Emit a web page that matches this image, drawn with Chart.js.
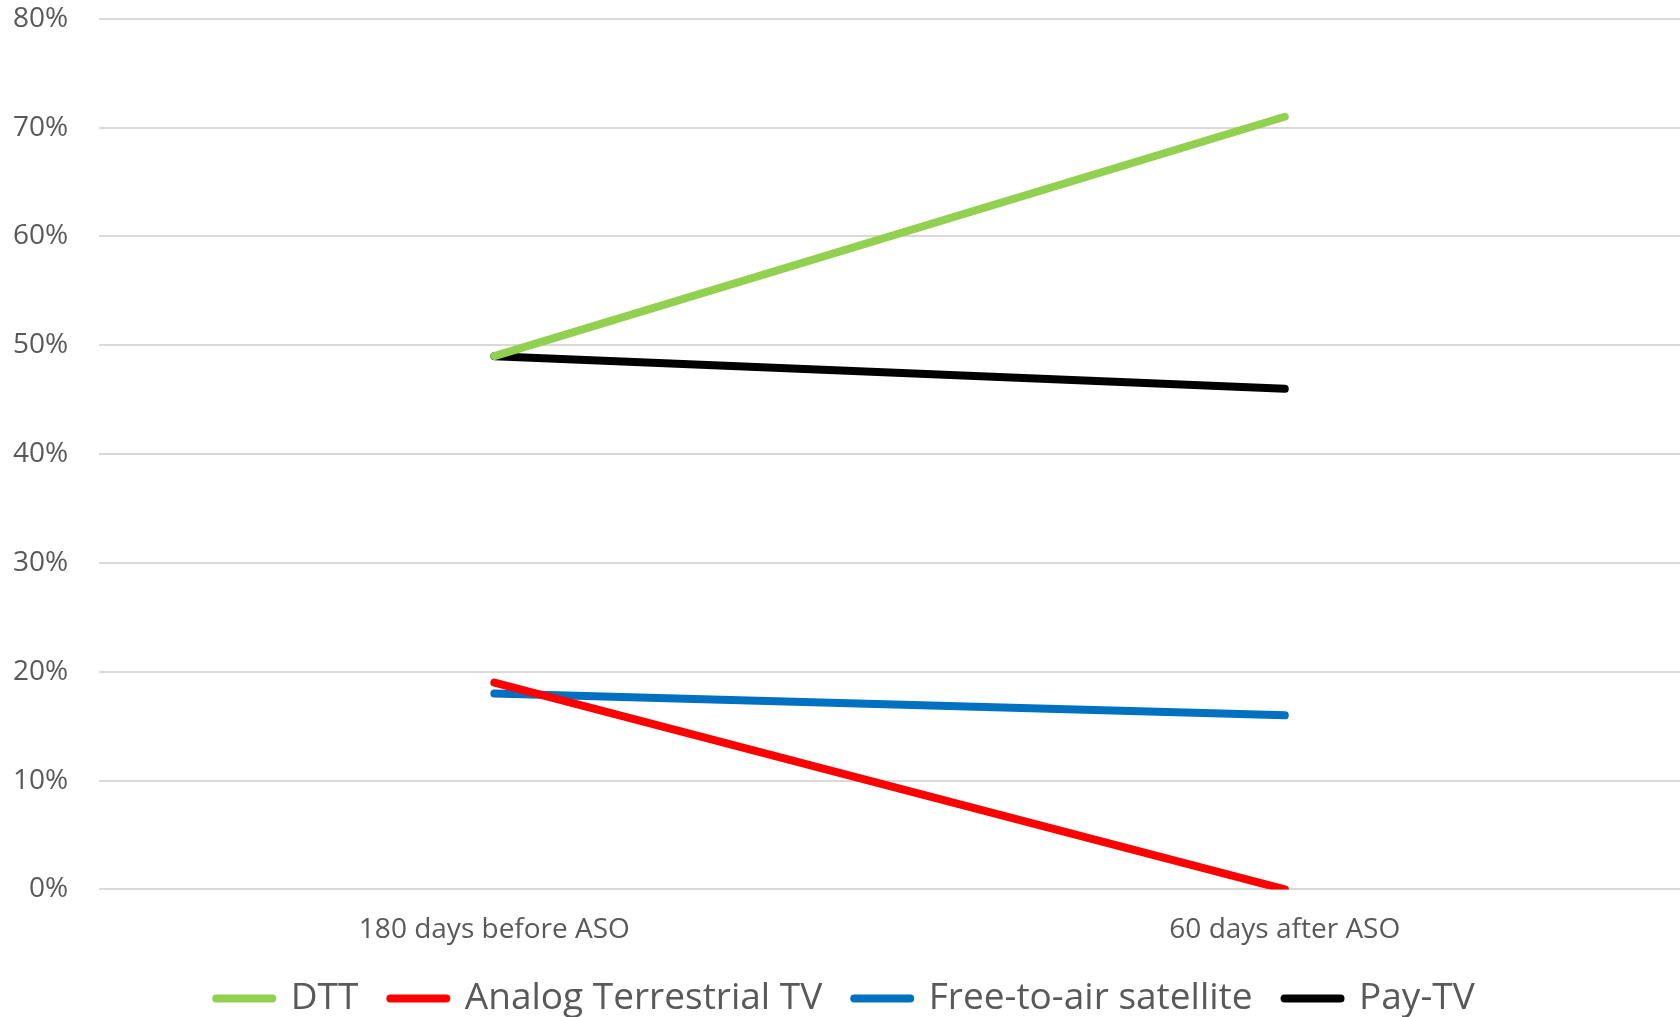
<!DOCTYPE html>
<html>
<head>
<meta charset="utf-8">
<script src="https://cdn.jsdelivr.net/npm/chart.js@4/dist/chart.umd.min.js"></script>
<style>
  body { margin: 0; background: #fff; }
  #wrap { width: 1680px; height: 1017px; }
</style>
</head>
<body>
<div id="wrap"><canvas id="myChart" width="1680" height="1017"></canvas></div>
<script>
// ********** data ************
const periods = ["180 days before ASO", "60 days after ASO"];
const dtt = [49, 71];
const analogTerrestrial = [19, 0];
const freeSatellite = [18, 16];
const payTv = [49, 46];

const seriesNames = ["DTT", "Analog Terrestrial TV", "Free-to-air satellite", "Pay-TV"];
const seriesColors = ["#92d050", "#ff0000", "#0070c0", "#000000"];
const seriesValues = [dtt, analogTerrestrial, freeSatellite, payTv];

const fontFamily = "'Open Sans', 'Liberation Sans', sans-serif";

// ********** chart ************
const ctx = document.getElementById("myChart");
const myChart = new Chart(ctx, {
  type: "line",
  data: {
    labels: periods,
    datasets: seriesNames.map((name, i) => ({
      label: name,
      data: seriesValues[i],
      borderColor: seriesColors[i],
      backgroundColor: seriesColors[i],
      borderWidth: 8,
      borderCapStyle: "round",
      pointRadius: 0,
      pointHoverRadius: 0,
      tension: 0,
    })),
  },
  options: {
    responsive: false,
    devicePixelRatio: 1,
    animation: false,
    layout: { padding: { top: 0, right: 0, left: 11, bottom: -10 } },
    plugins: {
      tooltip: { enabled: false },
      legend: {
        position: "bottom",
        labels: {
          usePointStyle: true,
          pointStyle: "line",
          pointStyleWidth: 56,
          boxHeight: 8,
          padding: 32,
          color: "#595959",
          font: { family: fontFamily, size: 37 },
          // round line ends like the original legend keys
          generateLabels: (chart) => {
            const items = Chart.defaults.plugins.legend.labels.generateLabels(chart);
            items.forEach((item) => {
              item.lineCap = "round";
              item.lineWidth = 8;
            });
            return items;
          },
        },
      },
    },
    scales: {
      x: {
        offset: true,
        grid: { display: false, drawTicks: false },
        border: { display: false },
        ticks: {
          color: "#595959",
          padding: 24,
          font: { family: fontFamily, size: 28 },
        },
        // let the legend sit closer to the category labels
        afterFit: (scale) => {
          scale.height -= 23;
        },
      },
      y: {
        min: 0,
        max: 80,
        border: { display: false },
        grid: { color: "#d9d9d9", lineWidth: 2, drawTicks: true, tickLength: 29, tickColor: "rgba(0,0,0,0)" },
        ticks: {
          stepSize: 10,
          color: "#595959",
          padding: 2,
          font: { family: fontFamily, size: 28 },
          callback: (v) => v + "%",
        },
      },
    },
  },
});
</script>
</body>
</html>
